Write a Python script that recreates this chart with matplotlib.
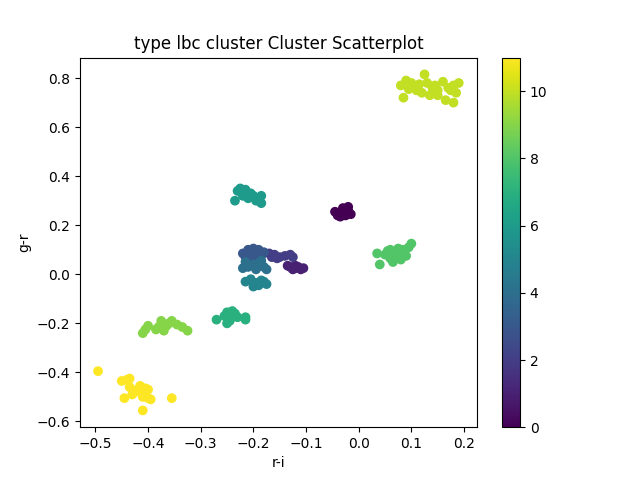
import numpy as np
import matplotlib
matplotlib.use('Agg')
import matplotlib.pyplot as plt

# 各簇的 r-i 与 g-r 取值
ri_0 = [-0.04, -0.03, -0.02, -0.035, -0.025, -0.015, -0.045, -0.02, -0.03, -0.04]
gr_0 = [0.25, 0.27, 0.26, 0.235, 0.24, 0.245, 0.255, 0.275, 0.255, 0.24]

ri_1 = [-0.135, -0.13, -0.12, -0.115, -0.11, -0.105, -0.125, -0.12]
gr_1 = [0.035, 0.03, 0.025, 0.03, 0.02, 0.025, 0.02, 0.035]

ri_2 = [-0.17, -0.16, -0.15, -0.14, -0.13, -0.125, -0.155, -0.165]
gr_2 = [0.085, 0.08, 0.07, 0.075, 0.08, 0.07, 0.065, 0.07]

ri_3 = [-0.22, -0.21, -0.2, -0.19, -0.18, -0.205, -0.195, -0.215, -0.185, -0.2]
gr_3 = [0.085, 0.1, 0.105, 0.1, 0.09, 0.08, 0.085, 0.07, 0.075, 0.065]

ri_4 = [-0.22, -0.215, -0.2, -0.19, -0.18, -0.175, -0.195, -0.21, -0.185]
gr_4 = [0.025, 0.05, 0.04, 0.045, 0.03, 0.02, 0.02, 0.03, 0.055]

ri_5 = [-0.215, -0.205, -0.195, -0.185, -0.175, -0.2, -0.19, -0.18]
gr_5 = [-0.03, -0.02, -0.035, -0.025, -0.04, -0.05, -0.045, -0.03]

ri_6 = [-0.235, -0.23, -0.225, -0.215, -0.205, -0.22, -0.21, -0.195, -0.185, -0.185, -0.2, -0.215]
gr_6 = [0.3, 0.34, 0.35, 0.345, 0.33, 0.32, 0.31, 0.3, 0.29, 0.32, 0.32, 0.335]

ri_7 = [-0.27, -0.255, -0.25, -0.24, -0.235, -0.23, -0.245, -0.25, -0.215, -0.215, -0.24]
gr_7 = [-0.185, -0.17, -0.155, -0.15, -0.16, -0.175, -0.19, -0.2, -0.175, -0.185, -0.175]

ri_8 = [0.035, 0.04, 0.05, 0.055, 0.06, 0.065, 0.07, 0.075, 0.08, 0.085, 0.09, 0.095, 0.1, 0.06, 0.075]
gr_8 = [0.085, 0.04, 0.08, 0.095, 0.1, 0.05, 0.07, 0.09, 0.06, 0.1, 0.075, 0.11, 0.125, 0.065, 0.105]

ri_9 = [-0.41, -0.405, -0.4, -0.38, -0.375, -0.37, -0.365, -0.36, -0.355, -0.345, -0.335, -0.325, -0.385, -0.375]
gr_9 = [-0.24, -0.225, -0.21, -0.215, -0.19, -0.23, -0.21, -0.2, -0.19, -0.205, -0.215, -0.23, -0.225, -0.205]

ri_10 = [0.08, 0.085, 0.09, 0.1, 0.105, 0.11, 0.115, 0.12, 0.125, 0.13, 0.135, 0.14,
         0.145, 0.15, 0.16, 0.165, 0.17, 0.175, 0.18, 0.185, 0.18, 0.19, 0.095, 0.15]
gr_10 = [0.77, 0.72, 0.79, 0.78, 0.765, 0.75, 0.775, 0.74, 0.815, 0.78, 0.73, 0.76,
         0.77, 0.75, 0.785, 0.71, 0.76, 0.75, 0.77, 0.74, 0.7, 0.78, 0.755, 0.73]

ri_11 = [-0.495, -0.45, -0.44, -0.435, -0.445, -0.43, -0.42, -0.415, -0.41, -0.405,
         -0.4, -0.41, -0.4, -0.395, -0.425, -0.41, -0.355, -0.435]
gr_11 = [-0.395, -0.435, -0.43, -0.425, -0.505, -0.49, -0.47, -0.455, -0.48, -0.465,
         -0.47, -0.5, -0.505, -0.51, -0.48, -0.555, -0.505, -0.46]

ri_list = [ri_0, ri_1, ri_2, ri_3, ri_4, ri_5, ri_6, ri_7, ri_8, ri_9, ri_10, ri_11]
gr_list = [gr_0, gr_1, gr_2, gr_3, gr_4, gr_5, gr_6, gr_7, gr_8, gr_9, gr_10, gr_11]

x = np.concatenate(ri_list)
y = np.concatenate(gr_list)
labels = np.concatenate([[k] * len(v) for k, v in enumerate(ri_list)])

# 绘制散点图
fig, ax = plt.subplots(figsize=(6.4, 4.8), dpi=100)
sc = ax.scatter(x, y, c=labels, cmap='viridis')
ax.set_title("type lbc cluster Cluster Scatterplot")
ax.set_xlabel("r-i")
ax.set_ylabel("g-r")
plt.colorbar(sc)

plt.savefig('out.png')
